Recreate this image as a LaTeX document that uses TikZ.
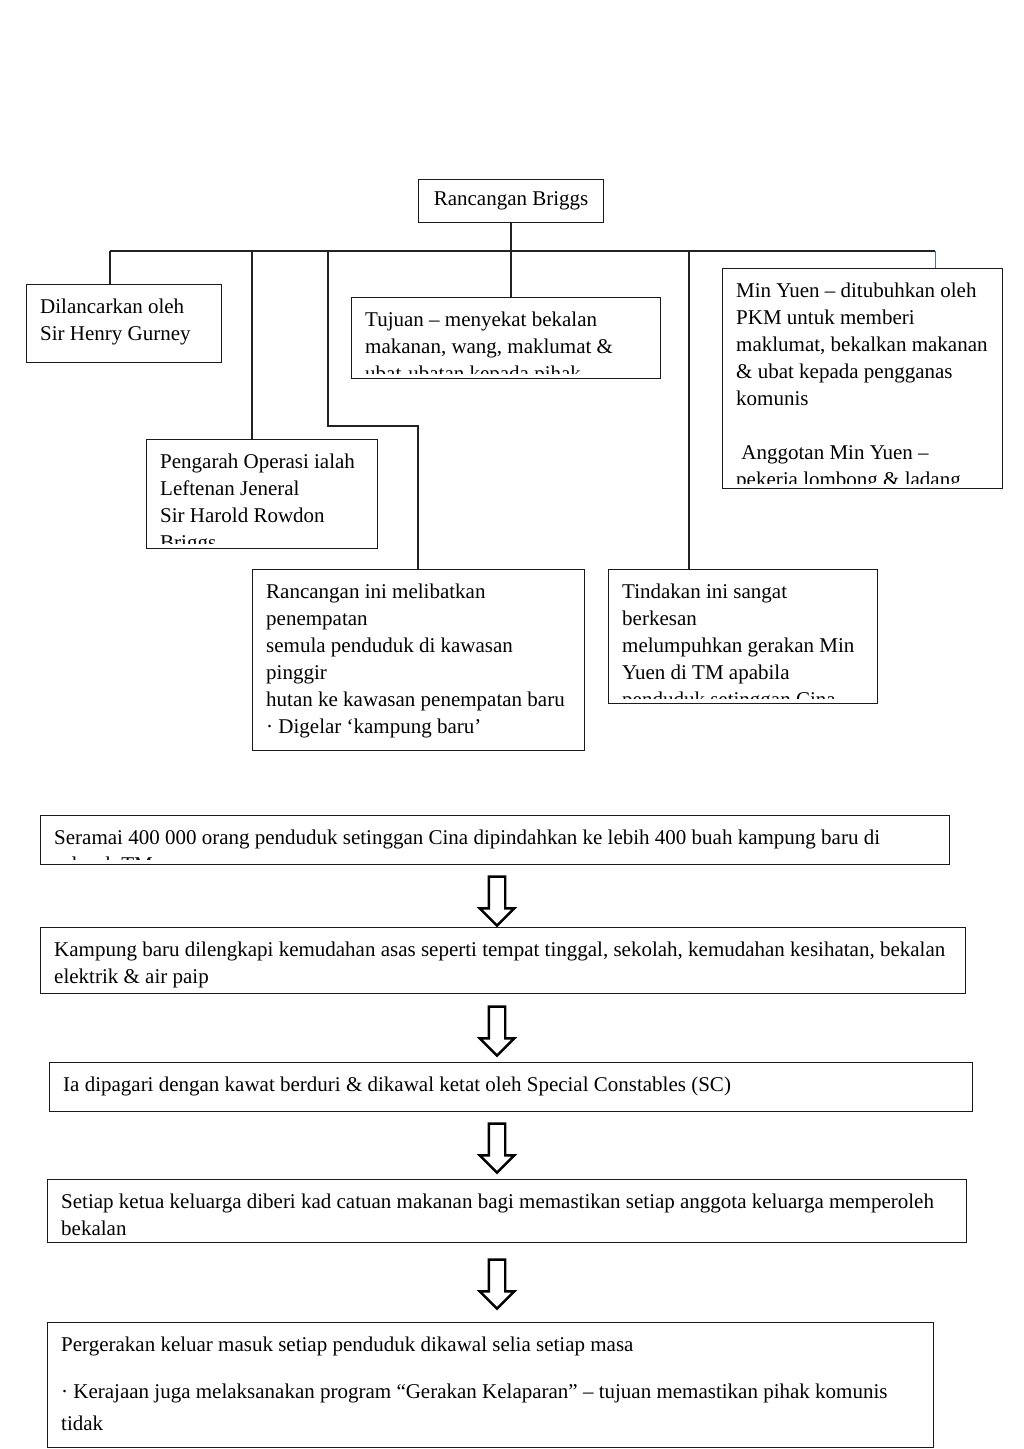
\documentclass[tikz,border=0pt]{standalone}
\usepackage{fontspec}
\setmainfont{Liberation Serif}
\usetikzlibrary{shapes.arrows,calc}
\definecolor{boxcol}{HTML}{1A1A1A}
\definecolor{linecol}{HTML}{222222}
\definecolor{minycol}{RGB}{80,110,150}
\newcommand\mybox[6]{%
  \node[box, minimum width=#4pt, minimum height=#5pt,
    path picture={\clip ([yshift=5pt]path picture bounding box.south west) rectangle (path picture bounding box.north east);
      \node[txt] at ([xshift=13pt,yshift=-13pt]path picture bounding box.north west) {\rule{0pt}{15pt}#6};}]
    (#1) at (#2,#3) {};}
\begin{document}
\begin{tikzpicture}[x=1pt,y=-1pt,
  box/.style={draw=boxcol, line width=1.2pt, rectangle, inner sep=0pt, anchor=north west},
  txt/.style={draw=none, anchor=north west, align=left, inner sep=0pt,
    minimum width=0pt, minimum height=0pt, font=\fontsize{21}{27}\selectfont},
  conn/.style={draw=linecol, line width=1.3pt},
  minyline/.style={draw=minycol, line width=0.7pt},
  blockarrow/.style={single arrow, draw=black, line width=2.4pt, fill=white,
    minimum height=49pt, minimum width=32pt, inner sep=7pt,
    single arrow head extend=9pt, shape border rotate=270}
]
\useasboundingbox (0,0) rectangle (1024,1449);
\fill[white] (0,0) rectangle (1024,1449);

% top tree
\node[box, minimum width=185pt, minimum height=43pt, font=\fontsize{21}{27}\selectfont] (root) at (418,179) {Rancangan Briggs};

\mybox{dil}{26}{284}{195}{78}{Dilancarkan oleh\\Sir Henry Gurney}
\mybox{tuj}{351}{297}{309}{81}{Tujuan – menyekat bekalan\\makanan, wang, maklumat \&\\ubat-ubatan kepada pihak}
\mybox{miny}{722}{268}{280}{220}{Min Yuen – ditubuhkan oleh\\PKM untuk memberi\\maklumat, bekalkan makanan\\\& ubat kepada pengganas\\komunis\\[27pt] \ Anggotan Min Yuen –\\pekerja lombong \& ladang}
\mybox{peng}{146}{439}{231}{109}{Pengarah Operasi ialah\\Leftenan Jeneral\\Sir Harold Rowdon\\Briggs}
\mybox{rinc}{252}{569}{332}{181}{Rancangan ini melibatkan\\penempatan\\semula penduduk di kawasan\\pinggir\\hutan ke kawasan penempatan baru\\· Digelar ‘kampung baru’}
\mybox{tind}{608}{569}{269}{134}{Tindakan ini sangat\\berkesan\\melumpuhkan gerakan Min\\Yuen di TM apabila\\penduduk setinggan Cina}

\coordinate (j1) at (110,251);
\coordinate (j2) at (252,251);
\coordinate (j3) at (328,251);
\coordinate (j4) at (689,251);
\coordinate (j5) at (935,251);
\coordinate (r1) at (418,426);

\draw[conn] (j1) -- (j5);
\draw[conn] (root.south) -- (root.south |- tuj.north);
\draw[conn] (j1) -- (j1 |- dil.north);
\draw[conn] (j2) -- (j2 |- peng.north);
\draw[conn] (j3) |- (r1) -- (r1 |- rinc.north);
\draw[conn] (j4) -- (j4 |- tind.north);
\draw[minyline] (j5) -- (j5 |- miny.north);

% bottom flow
\mybox{b1}{40}{815}{909}{49}{Seramai 400 000 orang penduduk setinggan Cina dipindahkan ke lebih 400 buah kampung baru di\\seluruh TM}
\mybox{b2}{40}{927}{925}{66}{Kampung baru dilengkapi kemudahan asas seperti tempat tinggal, sekolah, kemudahan kesihatan, bekalan\\elektrik \& air paip}
\mybox{b3}{49}{1062}{923}{49}{Ia dipagari dengan kawat berduri \& dikawal ketat oleh Special Constables (SC)}
\mybox{b4}{47}{1179}{919}{63}{Setiap ketua keluarga diberi kad catuan makanan bagi memastikan setiap anggota keluarga memperoleh\\bekalan}
\mybox{b5}{47}{1322}{886}{125}{Pergerakan keluar masuk setiap penduduk dikawal selia setiap masa\\[20pt]· Kerajaan juga melaksanakan program “Gerakan Kelaparan” – tujuan memastikan pihak komunis\\[5pt]tidak}

\node[blockarrow] (a1) at (497,897) {};
\node[blockarrow] (a2) at (497,1027) {};
\node[blockarrow] (a3) at (497,1144) {};
\node[blockarrow] (a4) at (497,1280) {};
\end{tikzpicture}
\end{document}
